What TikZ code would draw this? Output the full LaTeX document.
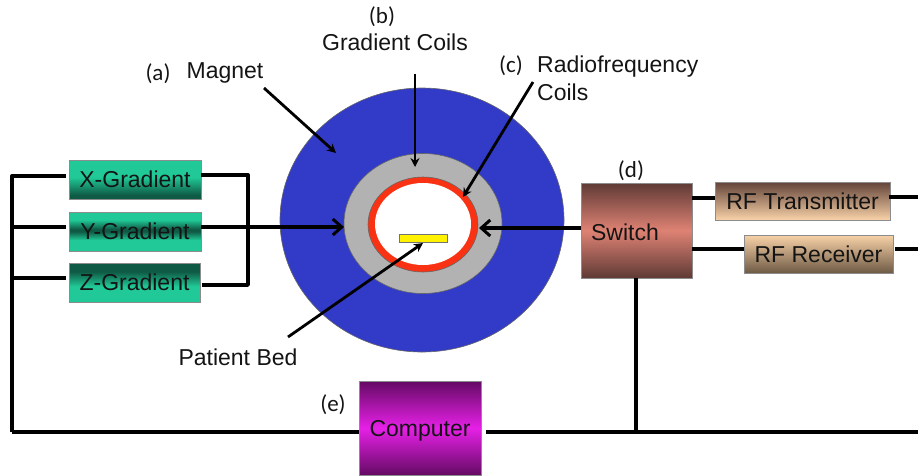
\documentclass[tikz,border=0pt]{standalone}
\usepackage{fontspec}
\setmainfont{Liberation Sans}
\newfontfamily\calib{Carlito}
\usetikzlibrary{arrows.meta}
\definecolor{teal1}{HTML}{20C997}
\definecolor{teal2}{HTML}{0F5A45}
\definecolor{sw1}{HTML}{DE8274}
\definecolor{sw2}{HTML}{5F3A35}
\definecolor{rf1}{HTML}{F8D2A8}
\definecolor{rf2}{HTML}{6E5A45}
\definecolor{pc1}{HTML}{E620E6}
\definecolor{pc2}{HTML}{640A64}
\pgfdeclareverticalshading{yshade}{100bp}{color(0bp)=(teal1);color(25bp)=(teal1);color(39bp)=(teal1);color(50bp)=(teal2);color(53bp)=(teal2);color(65bp)=(teal1);color(72bp)=(teal1);color(100bp)=(teal1)}
\pgfdeclareverticalshading{xshade}{100bp}{color(0bp)=(teal2);color(30bp)=(teal2);color(53bp)=(teal1);color(75bp)=(teal1);color(100bp)=(teal1)}
\pgfdeclareverticalshading{zshade}{100bp}{color(0bp)=(teal1);color(25bp)=(teal1);color(45bp)=(teal1);color(64bp)=(teal2);color(100bp)=(teal2)}
\tikzset{
 lbl/.style={font=\fontsize{23}{28}\selectfont,inner sep=0pt,text=black!92},
 tag/.style={font=\calib\fontsize{23}{26}\selectfont,inner sep=0pt,text=black!92},
 wire/.style={line width=3.4pt,black,line join=round},
 pointer/.style={line width=2.8pt,black,-{Stealth[length=9pt,width=9pt]}},
 bigarrow/.style={line width=3.6pt,black,-{Straight Barb[length=9pt,width=16pt,line width=3pt]}},
 boxbase/.style={rectangle,draw=black!45,line width=.8pt,inner sep=0pt,font=\fontsize{23}{26}\selectfont,text=black!92},
}
\begin{document}
\begin{tikzpicture}[x=1pt,y=-1pt]
\useasboundingbox (0,0) rectangle (918,475);
% scanner
\fill[draw=black!60,fill={rgb,255:red,50;green,58;blue,200},line width=.6pt] (422,220) ellipse [x radius=142,y radius=132];
\fill[draw=black!60,fill=black!30,line width=.6pt] (423,223.5) ellipse [x radius=79,y radius=70];
\fill[draw=black!60,fill={rgb,255:red,250;green,50;blue,20},line width=.6pt] (423,224.5) ellipse [x radius=55,y radius=47.5];
\fill[white] (423,224) ellipse [x radius=48,y radius=41];
% boxes
\node[boxbase,minimum width=132pt,minimum height=39pt,shading=xshade] (xg) at (135,179.5) {X-Gradient};
\node[boxbase,minimum width=132pt,minimum height=39pt,shading=yshade] (yg) at (135,231.5) {Y-Gradient};
\node[boxbase,minimum width=131pt,minimum height=39pt,shading=zshade] (zg) at (134.5,282.5) {Z-Gradient};
\node[boxbase,minimum width=111pt,minimum height=95pt,top color=sw2,bottom color=sw2,middle color=sw1] (sw) at (636.5,230.5) {};
\node[lbl] (swt) at (625,232) {Switch};
\node[boxbase,minimum width=175pt,minimum height=38pt,top color=sw2!70!rf2,bottom color=rf1] (tx) at (802.5,201) {RF Transmitter};
\node[boxbase,minimum width=149pt,minimum height=38pt,top color=rf1,bottom color=rf2] (rx) at (818.5,254) {RF Receiver};
\node[boxbase,minimum width=122pt,minimum height=94pt,top color=pc2,bottom color=pc2,middle color=pc1,text depth=-3pt] (pc) at (420,428) {Computer};
\node[rectangle,draw=black!55,fill=yellow,line width=.8pt,minimum width=48pt,minimum height=8pt,inner sep=0pt] (bed) at (423,238) {};
% labels
\node[tag] (la) at (158,74) {(a)};
\node[lbl] (magnet) at (225,73) {Magnet};
\node[tag] (lb) at (382,17) {(b)};
\node[lbl] (grad) at (395,42) {Gradient Coils};
\node[tag] (lc) at (511,66) {(c)};
\node[lbl,align=left,anchor=north west] (radio) at (537,56) {Radiofrequency\\Coils};
\node[tag] (ld) at (631,171) {(d)};
\node[tag] (le) at (333,405) {(e)};
\node[lbl] (patient) at (238,357) {Patient Bed};
% coordinates
\coordinate (busTL) at (12,176);
\coordinate (busY) at (12,227);
\coordinate (busZ) at (12,278);
\coordinate (busB) at (12,432);
\coordinate (xl) at (66,176);
\coordinate (yl) at (66,227);
\coordinate (zl) at (66,278);
\coordinate (xr) at (201,175);
\coordinate (zr) at (202,285);
\coordinate (jr) at (248,175);
\coordinate (jr2) at (248,285);
\coordinate (yr) at (201,227);
\coordinate (gy) at (344,227);
\coordinate (swl) at (581,228);
\coordinate (rr) at (479,228);
\coordinate (txl) at (692,198);
\coordinate (txr) at (715,198);
\coordinate (rxl) at (692,249);
\coordinate (rxr) at (744,249);
\coordinate (txo) at (889,197);
\coordinate (txe) at (918,197);
\coordinate (rxo) at (895,249);
\coordinate (rxe) at (918,249);
\coordinate (swb) at (636,278);
\coordinate (jb) at (636,432);
\coordinate (pcl) at (359,432);
\coordinate (pcr) at (486,432);
\coordinate (be) at (918,432);
% wires
\draw[wire] (busB) -- (busTL) -- (xl);
\draw[wire] (busY) -- (yl);
\draw[wire] (busZ) -- (zl);
\draw[wire] (busB) -- (pcl);
\draw[wire] (pcr) -- (be);
\draw[wire] (swb) -- (jb);
\draw[wire] (xr) -- (jr) -- (jr2) -- (zr);
\draw[wire] (txl) -- (txr);
\draw[wire] (rxl) -- (rxr);
\draw[wire] (txo) -- (txe);
\draw[wire] (rxo) -- (rxe);
\draw[bigarrow] (yr) -- (gy);
\draw[bigarrow] (swl) -- (rr);
% pointers
\coordinate (m1) at (264,88);
\coordinate (m2) at (336,153);
\coordinate (g1) at (415,74);
\coordinate (g2) at (415,167);
\coordinate (r1) at (533,82);
\coordinate (r2) at (463,197);
\coordinate (p1) at (288,337);
\coordinate (p2) at (423,243);
\draw[pointer] (m1) -- (m2);
\draw[pointer] (g1) -- (g2);
\draw[pointer] (r1) -- (r2);
\draw[pointer] (p1) -- (p2);
\end{tikzpicture}
\end{document}
